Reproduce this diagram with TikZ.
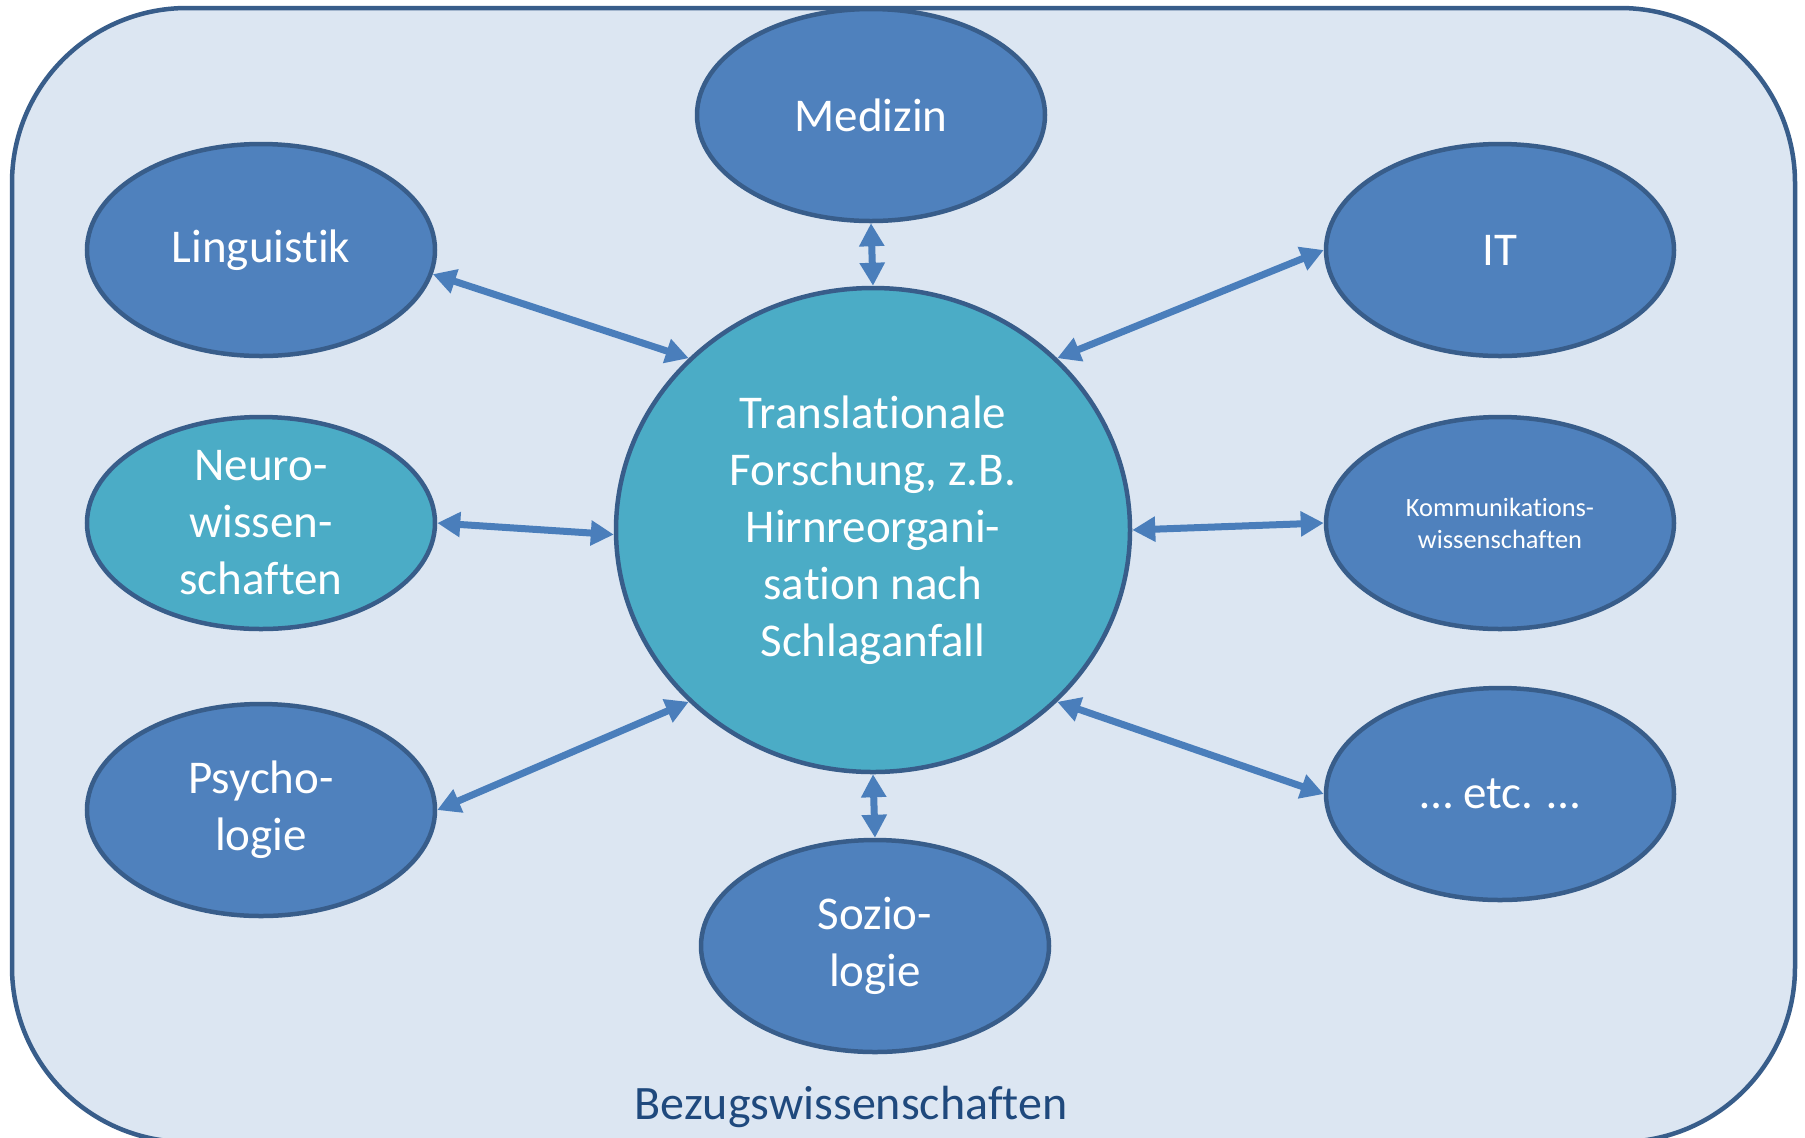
\documentclass[tikz,border=0pt]{standalone}
\usepackage{fontspec}
\setmainfont{Carlito}[RawFeature={-liga;-clig;-dlig;-calt}]
\usetikzlibrary{arrows.meta,shapes.geometric}
\definecolor{bgcol}{RGB}{220,230,242}
\definecolor{bordercol}{RGB}{56,93,138}
\definecolor{ovalfill}{RGB}{79,129,189}
\definecolor{aquafill}{RGB}{75,172,198}
\definecolor{arrowcol}{RGB}{74,126,187}
\definecolor{labelcol}{RGB}{31,73,125}
\tikzset{
  oval/.style={ellipse, draw=bordercol, line width=2.25pt, fill=ovalfill,
    minimum width=174pt, minimum height=106pt, inner xsep=0pt, inner ysep=-15pt,
    text=white, align=center, font=\fontsize{23.5}{28.5}\selectfont},
  centre/.style={ellipse, draw=bordercol, line width=2.25pt, fill=aquafill,
    minimum width=257pt, minimum height=242pt, inner sep=0pt,
    text=white, align=center, font=\fontsize{23.5}{28.5}\selectfont},
  arr/.style={{Triangle[length=11.5pt,width=12pt]}-{Triangle[length=11.5pt,width=12pt]},
    line width=3.5pt, draw=arrowcol},
  frame/.style={draw=bordercol, line width=2.25pt, fill=bgcol, rounded corners=87.5pt}
}
\begin{document}
\begin{tikzpicture}[x=0.5pt,y=-0.5pt]
\useasboundingbox (0,0) rectangle (1805,1137);
\fill[white] (0,0) rectangle (1805,1137);
\draw[frame] (12,8) rectangle (1795,1142);

\node[oval] (med) at (871,115) {Medizin};
\node[oval] (ling) at (261,250) {Linguistik};
\node[oval, fill=aquafill] (neuro) at (261,523) {Neuro-\\wissen-\\schaften};
\node[oval] (psy) at (261,810) {Psycho-\\logie};
\node[oval] (it) at (1500,250) {IT};
\node[oval, font=\fontsize{13.2}{16}\selectfont] (komm) at (1500,523) {Kommunikations-\\wissenschaften};
\node[oval] (etc) at (1500,794) {… etc. …};
\node[oval] (soz) at (875,946) {Sozio-\\logie};
\node[centre] (c) at (873,530) {Translationale\\Forschung, z.B.\\Hirnreorgani-\\sation nach\\Schlaganfall};

\node[anchor=base, text=labelcol, font=\fontsize{24}{28}\selectfont, inner sep=0pt] (bez) at (851,1119) {Bezugswissenschaften};

\draw[arr] (ling.-8) -- (c.137);
\draw[arr] (med.270) -- (c.90);
\draw[arr] (neuro.0) -- (c.181);
\draw[arr] (psy.0) -- (c.223);
\draw[arr] (it.180) -- (c.43);
\draw[arr] (komm.180) -- (c.0);
\draw[arr] (etc.180) -- (c.-43);
\draw[arr] (soz.90) -- (c.270);
\end{tikzpicture}
\end{document}
